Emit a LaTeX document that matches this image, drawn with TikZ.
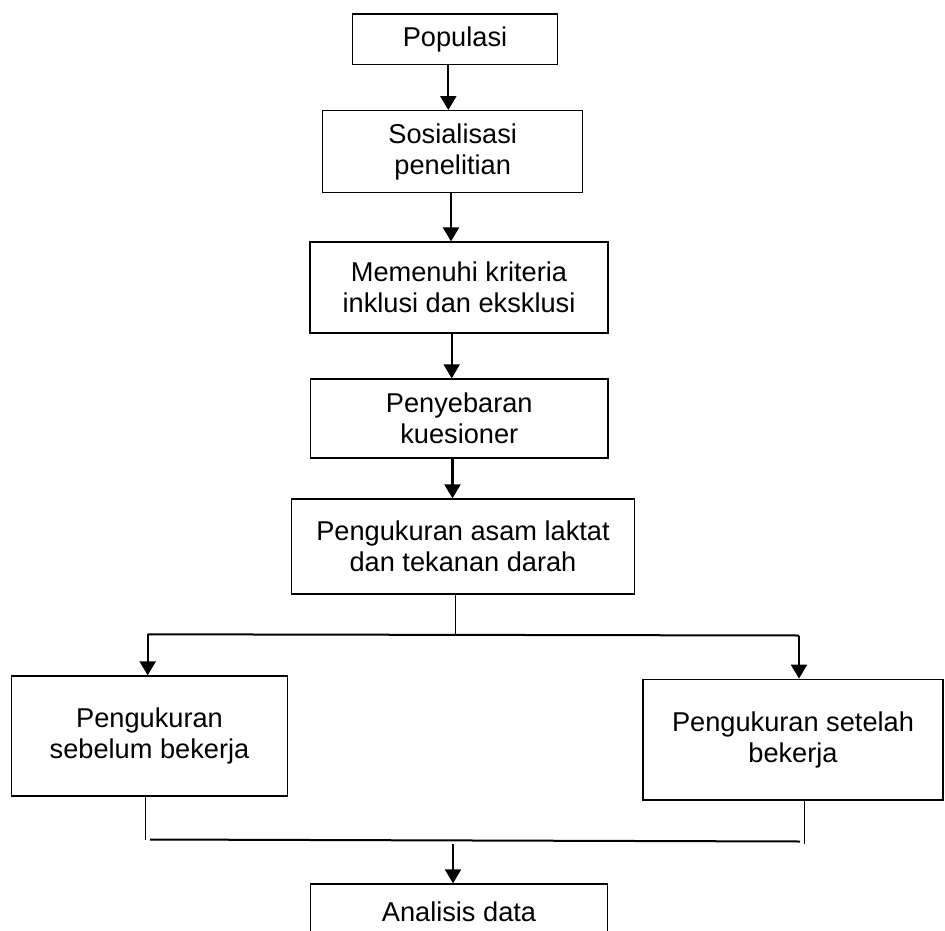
\documentclass[tikz,border=0pt]{standalone}
\usepackage{fontspec}
\setmainfont{Liberation Sans}
\usetikzlibrary{arrows.meta}

\tikzset{
  box/.style={draw, line width=1.3pt, align=center, inner sep=0pt,
    font=\fontsize{27.2}{31}\selectfont},
  arr/.style={line width=2.2pt, -{Triangle[length=14pt,width=16pt]}},
  link/.style={line width=2pt},
  thin/.style={line width=1pt}
}

\begin{document}
\begin{tikzpicture}[x={(1pt,0pt)}, y={(0pt,-1pt)}]
\useasboundingbox (0,0) rectangle (945,931);
\clip (0,0) rectangle (945,931);
\node[box, minimum width=204.6pt, minimum height=50.3pt] (pop) at (455,39.2) {Populasi};
\node[box, minimum width=260pt, minimum height=82pt] (sos) at (452.7,151.7) {Sosialisasi\\penelitian};
\node[box, minimum width=298pt, minimum height=91pt] (krit) at (459,287.5) {Memenuhi kriteria\\inklusi dan eksklusi};
\node[box, minimum width=297.3pt, minimum height=79pt] (kues) at (459.3,418.5) {Penyebaran\\kuesioner};
\node[box, minimum width=342.6pt, minimum height=95pt] (ukur) at (463,546.5) {Pengukuran asam laktat\\dan tekanan darah};
\node[box, minimum width=275.6pt, minimum height=120pt] (sebelum) at (149.5,736) {Pengukuran\\sebelum bekerja};
\node[box, minimum width=300pt, minimum height=120.7pt] (setelah) at (793,739.6) {Pengukuran setelah\\bekerja};
\node[box, minimum width=297pt, minimum height=56pt] (analisis) at (459,912) {Analisis data};

\coordinate (splitL) at (147.7,634.3);
\coordinate (splitR) at (799,635.5);
\coordinate (joinL) at (150,839.5);
\coordinate (joinR) at (800,841.5);
\coordinate (joinM) at (453,844);

\draw[arr] ([xshift=-6.7]pop.south) -- ([xshift=-6.7]pop.south |- sos.north);
\draw[arr] ([xshift=-1.7]sos.south) -- ([xshift=-1.7]sos.south |- krit.north);
\draw[arr] ([xshift=-7.3]krit.south) -- ([xshift=-7.3]krit.south |- kues.north);
\draw[arr] ([xshift=-6.8]kues.south) -- ([xshift=-6.8]kues.south |- ukur.north);

\draw[thin] ([xshift=-8]ukur.south) -- ([xshift=-8]ukur.south |- splitL);
\draw[link] (splitL) -- (splitR);
\draw[arr] (splitL) -- (splitL |- sebelum.north);
\draw[arr] (splitR) -- (splitR |- setelah.north);

\draw[thin] ([xshift=-4.5]sebelum.south) -- ([xshift=-4.5]sebelum.south |- joinL);
\draw[thin] ([xshift=11.7]setelah.south) -- ([xshift=11.7]setelah.south |- joinM);
\draw[link] (joinL) -- (joinR);
\draw[arr] (joinM) -- (joinM |- analisis.north);
\end{tikzpicture}
\end{document}
